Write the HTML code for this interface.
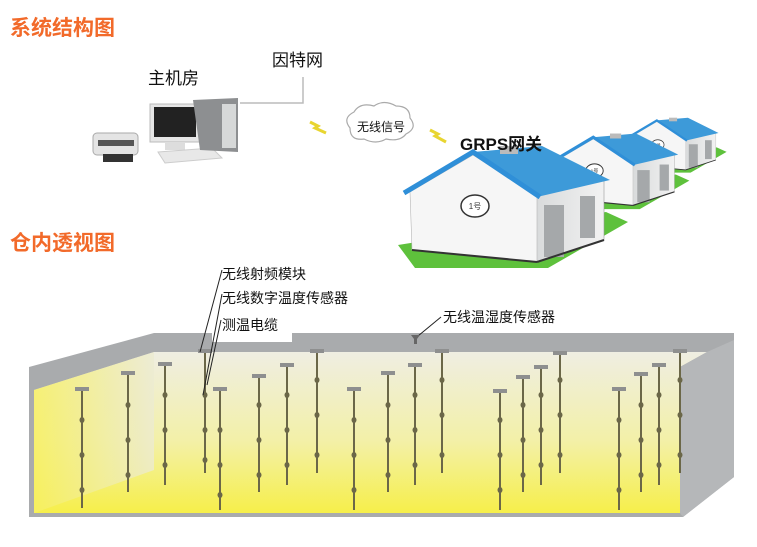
<!DOCTYPE html>
<html><head><meta charset="utf-8"><style>
html,body{margin:0;padding:0;background:#fff;}
svg{display:block}
text{font-family:"Liberation Sans","Noto Sans CJK SC",sans-serif;}
</style></head><body>
<svg width="757" height="547" viewBox="0 0 757 547" xmlns="http://www.w3.org/2000/svg">
<defs>
<linearGradient id="yel" x1="0" y1="0" x2="0" y2="1">
<stop offset="0" stop-color="#efeee2"/><stop offset="0.55" stop-color="#f3f0a8"/><stop offset="1" stop-color="#f6ef4a"/>
</linearGradient>
<linearGradient id="lw" x1="0" y1="0" x2="1" y2="0">
<stop offset="0" stop-color="#f7f060"/><stop offset="1" stop-color="#ecebd2"/>
</linearGradient>
<linearGradient id="side" x1="0" y1="0" x2="1" y2="0">
<stop offset="0" stop-color="#d8dadb"/><stop offset="1" stop-color="#f2f2f2"/>
</linearGradient>
<g id="house">
<polygon points="398,245 415,268 548,268 628,222 606,212" fill="#5ec13c"/>
<polygon points="535,194 604,180 604,240 535,262" fill="url(#side)" stroke="#9a9a9a" stroke-width="0.6"/>
<rect x="544" y="205" width="20" height="52" fill="#a5a8aa"/>
<rect x="580" y="196" width="15" height="42" fill="#a5a8aa"/>
<polygon points="410,192 473,155 537,196 537,262 412,250" fill="#f6f6f6" stroke="#b5b5b5" stroke-width="0.6"/>
<line x1="412" y1="250" x2="537" y2="262" stroke="#333" stroke-width="2"/>
<line x1="537" y1="262" x2="604" y2="240" stroke="#333" stroke-width="2"/>
<polygon points="473,152 542,146 610,180 537,197" fill="#3d9ad9"/>
<polyline points="404,193 473,152 540,197" fill="none" stroke="#2f8fd8" stroke-width="5"/>
<rect x="500" y="146" width="18" height="8" fill="#bbb"/>
<ellipse cx="475" cy="206" rx="14" ry="11" fill="#fff" stroke="#333" stroke-width="1.5"/>
<text x="475" y="209" font-size="8" text-anchor="middle" fill="#333">1号</text>
</g>
</defs>

<text x="10" y="35" font-size="21" font-weight="bold" fill="#f26a2a" font-family="'Noto Sans CJK SC',sans-serif">系统结构图</text>
<text x="10" y="250" font-size="21" font-weight="bold" fill="#f26a2a" font-family="'Noto Sans CJK SC',sans-serif">仓内透视图</text>

<text x="148" y="84" font-size="17" fill="#111">主机房</text>
<text x="272" y="66" font-size="17" fill="#111">因特网</text>
<polyline points="303,77 303,103 240,103" fill="none" stroke="#bbb" stroke-width="1.5"/>

<!-- printer -->
<rect x="93" y="133" width="45" height="22" rx="4" fill="#e4e4e4" stroke="#aaa"/>
<rect x="98" y="140" width="36" height="6" fill="#555"/>
<rect x="103" y="154" width="30" height="8" fill="#333"/>
<!-- monitor -->
<rect x="150" y="104" width="52" height="38" fill="#e6e6e6" stroke="#bbb"/>
<rect x="154" y="107" width="42" height="30" fill="#222"/>
<rect x="165" y="142" width="20" height="8" fill="#ddd"/>
<polygon points="158,152 212,148 222,158 165,163" fill="#e8e8e8" stroke="#ccc"/>
<!-- tower -->
<polygon points="193,100 238,98 238,152 200,150" fill="#8d8f91"/>
<rect x="222" y="104" width="14" height="44" fill="#d6d8d8"/>

<!-- lightning -->
<polyline points="310,122 318,126 315,128 326,133" fill="none" stroke="#e8d530" stroke-width="3"/>
<polyline points="430,130 438,134 435,136 446,142" fill="none" stroke="#e8d530" stroke-width="3"/>
<!-- cloud -->
<path d="M350,128 q-8,-10 4,-16 q6,-10 20,-6 q10,-7 22,0 q14,0 14,12 q8,10 -4,16 q-6,8 -20,5 q-10,6 -22,0 q-14,2 -14,-11z" fill="#fff" stroke="#aaa" stroke-width="1.2"/>
<text x="357" y="131" font-size="12" fill="#111">无线信号</text>

<use href="#house" transform="translate(444,52) scale(0.45)"/>
<use href="#house" transform="translate(300,43) scale(0.62)"/>
<use href="#house"/>
<text x="460" y="150" font-size="17" font-weight="bold" fill="#111">GRPS网关</text>

<!-- warehouse -->
<polygon points="29,367 154,333 734,333 734,477 683,517 29,517" fill="#a9abad"/>
<polygon points="34,390 154,352 707,352 680,367 680,513 34,513" fill="url(#yel)"/>
<polygon points="34,390 154,352 154,470 34,513" fill="url(#lw)" opacity="0.8"/>
<polygon points="707,352 734,340 734,477 683,517 680,513 680,367" fill="#b5b7b9"/>
<rect x="212" y="310" width="80" height="32" fill="#fff"/>

<g stroke="#6b6748" stroke-width="2" fill="#6b6748">
<line x1="82" y1="390" x2="82" y2="508"/><line x1="128" y1="374" x2="128" y2="492"/>
<line x1="165" y1="365" x2="165" y2="485"/><line x1="205" y1="352" x2="205" y2="473"/>
<line x1="220" y1="390" x2="220" y2="510"/><line x1="259" y1="377" x2="259" y2="492"/>
<line x1="287" y1="366" x2="287" y2="485"/><line x1="317" y1="352" x2="317" y2="473"/>
<line x1="354" y1="390" x2="354" y2="510"/><line x1="388" y1="374" x2="388" y2="492"/>
<line x1="415" y1="366" x2="415" y2="485"/><line x1="442" y1="352" x2="442" y2="473"/>
<line x1="500" y1="392" x2="500" y2="510"/><line x1="523" y1="378" x2="523" y2="492"/>
<line x1="541" y1="368" x2="541" y2="485"/><line x1="560" y1="354" x2="560" y2="473"/>
<line x1="619" y1="390" x2="619" y2="510"/><line x1="641" y1="375" x2="641" y2="492"/>
<line x1="659" y1="366" x2="659" y2="485"/><line x1="680" y1="352" x2="680" y2="473"/>
</g>
<g fill="#8e8f8f">
<rect x="75" y="387" width="14" height="4"/><rect x="121" y="371" width="14" height="4"/>
<rect x="158" y="362" width="14" height="4"/><rect x="198" y="349" width="14" height="4"/>
<rect x="213" y="387" width="14" height="4"/><rect x="252" y="374" width="14" height="4"/>
<rect x="280" y="363" width="14" height="4"/><rect x="310" y="349" width="14" height="4"/>
<rect x="347" y="387" width="14" height="4"/><rect x="381" y="371" width="14" height="4"/>
<rect x="408" y="363" width="14" height="4"/><rect x="435" y="349" width="14" height="4"/>
<rect x="493" y="389" width="14" height="4"/><rect x="516" y="375" width="14" height="4"/>
<rect x="534" y="365" width="14" height="4"/><rect x="553" y="351" width="14" height="4"/>
<rect x="612" y="387" width="14" height="4"/><rect x="634" y="372" width="14" height="4"/>
<rect x="652" y="363" width="14" height="4"/><rect x="673" y="349" width="14" height="4"/>
</g>
<g fill="#6b6748">
<ellipse cx="82" cy="420" rx="2.5" ry="3"/><ellipse cx="82" cy="455" rx="2.5" ry="3"/><ellipse cx="82" cy="490" rx="2.5" ry="3"/>
<ellipse cx="128" cy="405" rx="2.5" ry="3"/><ellipse cx="128" cy="440" rx="2.5" ry="3"/><ellipse cx="128" cy="475" rx="2.5" ry="3"/>
<ellipse cx="165" cy="395" rx="2.5" ry="3"/><ellipse cx="165" cy="430" rx="2.5" ry="3"/><ellipse cx="165" cy="465" rx="2.5" ry="3"/>
<ellipse cx="205" cy="395" rx="2.5" ry="3"/><ellipse cx="205" cy="430" rx="2.5" ry="3"/><ellipse cx="205" cy="460" rx="2.5" ry="3"/>
<ellipse cx="220" cy="430" rx="2.5" ry="3"/><ellipse cx="220" cy="465" rx="2.5" ry="3"/><ellipse cx="220" cy="495" rx="2.5" ry="3"/>
<ellipse cx="259" cy="405" rx="2.5" ry="3"/><ellipse cx="259" cy="440" rx="2.5" ry="3"/><ellipse cx="259" cy="475" rx="2.5" ry="3"/>
<ellipse cx="287" cy="395" rx="2.5" ry="3"/><ellipse cx="287" cy="430" rx="2.5" ry="3"/><ellipse cx="287" cy="465" rx="2.5" ry="3"/>
<ellipse cx="317" cy="380" rx="2.5" ry="3"/><ellipse cx="317" cy="415" rx="2.5" ry="3"/><ellipse cx="317" cy="455" rx="2.5" ry="3"/>
<ellipse cx="354" cy="420" rx="2.5" ry="3"/><ellipse cx="354" cy="455" rx="2.5" ry="3"/><ellipse cx="354" cy="490" rx="2.5" ry="3"/>
<ellipse cx="388" cy="405" rx="2.5" ry="3"/><ellipse cx="388" cy="440" rx="2.5" ry="3"/><ellipse cx="388" cy="475" rx="2.5" ry="3"/>
<ellipse cx="415" cy="395" rx="2.5" ry="3"/><ellipse cx="415" cy="430" rx="2.5" ry="3"/><ellipse cx="415" cy="465" rx="2.5" ry="3"/>
<ellipse cx="442" cy="380" rx="2.5" ry="3"/><ellipse cx="442" cy="415" rx="2.5" ry="3"/><ellipse cx="442" cy="455" rx="2.5" ry="3"/>
<ellipse cx="500" cy="420" rx="2.5" ry="3"/><ellipse cx="500" cy="455" rx="2.5" ry="3"/><ellipse cx="500" cy="490" rx="2.5" ry="3"/>
<ellipse cx="523" cy="405" rx="2.5" ry="3"/><ellipse cx="523" cy="440" rx="2.5" ry="3"/><ellipse cx="523" cy="475" rx="2.5" ry="3"/>
<ellipse cx="541" cy="395" rx="2.5" ry="3"/><ellipse cx="541" cy="430" rx="2.5" ry="3"/><ellipse cx="541" cy="465" rx="2.5" ry="3"/>
<ellipse cx="560" cy="380" rx="2.5" ry="3"/><ellipse cx="560" cy="415" rx="2.5" ry="3"/><ellipse cx="560" cy="455" rx="2.5" ry="3"/>
<ellipse cx="619" cy="420" rx="2.5" ry="3"/><ellipse cx="619" cy="455" rx="2.5" ry="3"/><ellipse cx="619" cy="490" rx="2.5" ry="3"/>
<ellipse cx="641" cy="405" rx="2.5" ry="3"/><ellipse cx="641" cy="440" rx="2.5" ry="3"/><ellipse cx="641" cy="475" rx="2.5" ry="3"/>
<ellipse cx="659" cy="395" rx="2.5" ry="3"/><ellipse cx="659" cy="430" rx="2.5" ry="3"/><ellipse cx="659" cy="465" rx="2.5" ry="3"/>
<ellipse cx="680" cy="380" rx="2.5" ry="3"/><ellipse cx="680" cy="415" rx="2.5" ry="3"/><ellipse cx="680" cy="455" rx="2.5" ry="3"/>
</g>

<!-- labels -->
<text x="222" y="279" font-size="14" fill="#111">无线射频模块</text>
<text x="222" y="303" font-size="14" fill="#111">无线数字温度传感器</text>
<text x="222" y="330" font-size="14" fill="#111">测温电缆</text>
<text x="443" y="322" font-size="14" fill="#111">无线温湿度传感器</text>
<g stroke="#222" stroke-width="1" fill="none">
<line x1="222" y1="270" x2="200" y2="352"/>
<line x1="222" y1="294" x2="203" y2="395"/>
<line x1="221" y1="320" x2="207" y2="385"/>
<line x1="441" y1="317" x2="418" y2="336"/>
</g>
<path d="M411,335 h9 l-3,4 v5 h-3 v-5z" fill="#666"/>
</svg>
</body></html>
